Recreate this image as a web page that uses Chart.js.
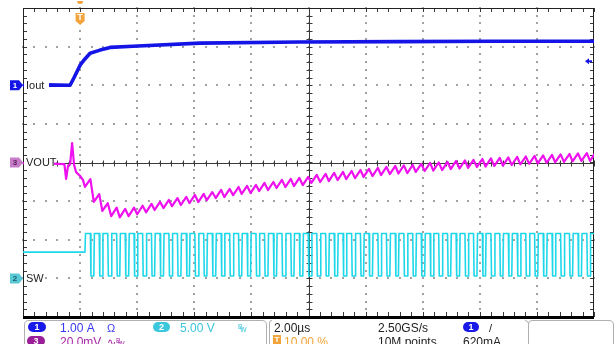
<!DOCTYPE html>
<html>
<head>
<meta charset="utf-8">
<script src="https://cdn.jsdelivr.net/npm/chart.js@4.4.1/dist/chart.umd.min.js"></script>
<style>
  html, body { margin: 0; padding: 0; background: #fff; }
  #wrap { width: 616px; height: 344px; overflow: hidden; }
</style>
</head>
<body>
<div id="wrap"><canvas id="scope" width="616" height="344"></canvas></div>
<script>
// --- time base: 2 µs/div, trigger at 10 % ---
const timeMin = -2;
const timeMax = 18;

// --- channel settings (units per division, ground position in divisions) ---
const iScale = 1.0,  iPos = 2;    // ch1 Iout, A
const vScale = 20,   vPos = 0;    // ch3 VOUT, mV
const swScale = 5,   swPos = -3;  // ch2 SW, V

// --- Iout (A) ---
const ioutTime = [-2, -1.2, -0.35, -0.21, 0, 0.17, 0.35, 0.7, 1.05, 1.85, 4.2, 7.7, 11.2, 14.5, 18];
const ioutAmps = [0, 0.01, 0, 0.2, 0.52, 0.68, 0.83, 0.91, 0.98, 1.01, 1.09, 1.12, 1.13, 1.14, 1.14];

// --- VOUT before switching starts (mV) ---
const voutPreTime = [-2, -1.0, -0.55, -0.49, -0.42, -0.35, -0.28, -0.21, -0.14, 0, 0.1];
const voutPreMv   = [-0.4, -0.6, -0.8, -8.5, -1.5, -1.0, 10, -1.3, -5, -7, -9];

// --- SW rising edges (µs) and levels (V) ---
const swRise = [0.17, 0.48, 0.78, 1.09, 1.39, 1.70, 2.00, 2.31, 2.61, 2.92, 3.22, 3.53, 3.83, 4.14, 4.44,
  4.75, 5.05, 5.36, 5.66, 5.97, 6.27, 6.58, 6.88, 7.19, 7.49, 7.80, 8.10, 8.41, 8.71, 9.02, 9.32, 9.63,
  9.93, 10.24, 10.54, 10.85, 11.15, 11.46, 11.76, 12.07, 12.37, 12.68, 12.98, 13.29, 13.59, 13.90, 14.20,
  14.51, 14.81, 15.12, 15.42, 15.73, 16.03, 16.34, 16.64, 16.95, 17.25, 17.56, 17.86];
const swHighTime = 0.19;
const swIdle = 3.4, swHigh = 5.8, swLow = 0.3;

// --- VOUT ripple per switching cycle (mV) ---
const voutValley = [-12.6, -20.4, -25.1, -27.8, -28.4, -27.8, -26.8, -25.8, -24.6, -23.6, -22.6, -22.0,
  -21.0, -20.5, -19.5, -18.4, -17.9, -16.9, -16.3, -15.8, -14.8, -14.3, -13.2, -12.7, -12.2, -11.7, -10.6,
  -10.1, -9.6, -9.1, -8.6, -8.1, -7.5, -7.0, -6.5, -6.0, -5.7, -5.5, -4.9, -4.4, -4.2, -3.9, -3.4, -3.1,
  -2.8, -2.3, -2.1, -1.8, -1.6, -1.3, -1.0, -0.7, -0.5, -0.2, 0.1, 0.3, 0.6, 0.8, 0.8];
const voutPeak = [-8.6, -16.4, -21.1, -23.4, -24.0, -23.4, -22.4, -21.4, -20.4, -19.4, -18.4, -17.8,
  -16.8, -16.3, -15.3, -14.2, -13.7, -12.7, -12.1, -11.6, -10.6, -10.1, -9.0, -8.5, -8.0, -7.5, -6.4,
  -5.9, -5.4, -4.9, -4.4, -3.9, -3.3, -2.8, -2.3, -1.8, -1.5, -1.3, -0.7, -0.2, 0.0, 0.3, 0.8, 1.1, 1.3,
  1.8, 2.1, 2.4, 2.6, 2.9, 3.1, 3.4, 3.7, 3.9, 4.2, 4.4, 4.7, 4.9, 5.0];

const trigLevel = 0.62; // A

// --- colori ---
const colIout = '#1414e6';
const colVout = '#ee10ee';
const colSw = '#1ed8ea';
const colTrig = '#f2a33a';

// --- costruzione serie (in divisioni) ---
const ioutData = ioutTime.map((t, i) => ({ x: t, y: iPos + ioutAmps[i] / iScale }));

const voutData = voutPreTime.map((t, i) => ({ x: t, y: vPos + voutPreMv[i] / vScale }));
swRise.forEach((t, i) => {
    voutData.push({ x: t, y: vPos + voutValley[i] / vScale });
    voutData.push({ x: t + swHighTime, y: vPos + voutPeak[i] / vScale });
});

const swData = [{ x: timeMin, y: swPos + swIdle / swScale }];
swRise.forEach((t, i) => {
    const prev = i === 0 ? swIdle : swLow;
    swData.push({ x: t, y: swPos + prev / swScale });
    swData.push({ x: t + 0.02, y: swPos + swHigh / swScale });
    swData.push({ x: t + swHighTime, y: swPos + swHigh / swScale });
    swData.push({ x: t + swHighTime + 0.02, y: swPos + swLow / swScale });
});

// --- graticola: punti, cornice e croce centrale ---
const graticule = {
    id: 'graticule',
    beforeDatasetsDraw(chart) {
        const { ctx, chartArea: a, scales: { x, y } } = chart;
        ctx.save();

        // griglia a puntini (ogni divisione, passo 1/5)
        ctx.fillStyle = '#a2a2a2';
        for (let t = timeMin + 2; t < timeMax; t += 2) {
            const px = Math.round(x.getPixelForValue(t)) - 1;
            for (let v = -4; v <= 4 + 1e-6; v += 0.2) {
                ctx.fillRect(px, Math.round(y.getPixelForValue(v)) - 1, 2, 2);
            }
        }
        for (let v = -3; v < 4; v += 1) {
            const py = Math.round(y.getPixelForValue(v)) - 1;
            for (let t = timeMin; t <= timeMax + 1e-6; t += 0.4) {
                ctx.fillRect(Math.round(x.getPixelForValue(t)) - 1, py, 2, 2);
            }
        }

        const cx = Math.round(x.getPixelForValue(8)) + 0.5;
        const cy = Math.round(y.getPixelForValue(0)) + 0.5;
        ctx.strokeStyle = '#3a3a3a';
        ctx.lineWidth = 1;
        ctx.beginPath();
        ctx.moveTo(cx, a.top); ctx.lineTo(cx, a.bottom);
        ctx.moveTo(a.left, cy); ctx.lineTo(a.right, cy);
        // tacche minori
        for (let t = timeMin; t <= timeMax + 1e-6; t += 0.4) {
            const px = Math.round(x.getPixelForValue(t)) + 0.5;
            ctx.moveTo(px, cy - 3); ctx.lineTo(px, cy + 3);
            ctx.moveTo(px, a.top); ctx.lineTo(px, a.top + 4);
            ctx.moveTo(px, a.bottom); ctx.lineTo(px, a.bottom - 5);
        }
        for (let v = -4; v <= 4 + 1e-6; v += 0.2) {
            const py = Math.round(y.getPixelForValue(v)) + 0.5;
            ctx.moveTo(cx - 3, py); ctx.lineTo(cx + 3, py);
            ctx.moveTo(a.left, py); ctx.lineTo(a.left + 4, py);
            ctx.moveTo(a.right, py); ctx.lineTo(a.right - 4, py);
        }
        ctx.stroke();
        // cornice
        ctx.strokeStyle = '#222';
        ctx.beginPath();
        ctx.moveTo(a.left + 0.5, a.bottom); ctx.lineTo(a.left + 0.5, a.top + 0.5);
        ctx.lineTo(a.right - 0.5, a.top + 0.5); ctx.lineTo(a.right - 0.5, a.bottom);
        ctx.stroke();
        ctx.restore();
    },
    afterDatasetsDraw(chart) {
        const { ctx, chartArea: a, scales: { x, y } } = chart;
        ctx.save();
        // bordo inferiore spesso
        ctx.fillStyle = '#000';
        ctx.fillRect(a.left, a.bottom - 1, a.right - a.left, 3);

        // etichette canali a sinistra
        const tags = [
            { pos: iPos, n: '1', fill: colIout, txt: '#fff', label: 'Iout', lw: 22 },
            { pos: vPos, n: '3', fill: '#c77cc7', txt: '#5a1a5a', label: 'VOUT', lw: 27 },
            { pos: swPos, n: '2', fill: '#58c8d6', txt: '#1a5a66', label: 'SW', lw: 17 }
        ];
        tags.forEach(tg => {
            const py = y.getPixelForValue(tg.pos);
            ctx.fillStyle = '#fff';
            ctx.fillRect(a.left + 1, py - 6, tg.lw + 3, 11);
            ctx.fillStyle = tg.fill;
            ctx.beginPath();
            ctx.moveTo(10, py - 5); ctx.lineTo(19, py - 5); ctx.lineTo(23, py);
            ctx.lineTo(19, py + 5); ctx.lineTo(10, py + 5); ctx.closePath();
            ctx.fill();
            ctx.fillStyle = tg.txt;
            ctx.font = 'bold 8px "Liberation Sans", Arial, sans-serif';
            ctx.textAlign = 'center'; ctx.textBaseline = 'middle';
            ctx.fillText(tg.n, 15, py + 0.5);
            ctx.fillStyle = '#222';
            ctx.font = '11px "Liberation Sans", Arial, sans-serif';
            ctx.textAlign = 'left';
            ctx.fillText(tg.label, a.left + 3, py + 0.5);
        });

        // marcatore trigger in alto
        const tx = x.getPixelForValue(0);
        ctx.fillStyle = colTrig;
        ctx.beginPath();
        ctx.arc(tx, 1, 3, 0, Math.PI);
        ctx.fill();
        ctx.beginPath();
        ctx.moveTo(tx - 4.5, 13); ctx.lineTo(tx + 4.5, 13); ctx.lineTo(tx + 4.5, 21);
        ctx.lineTo(tx, 25); ctx.lineTo(tx - 4.5, 21); ctx.closePath();
        ctx.fill();
        ctx.fillStyle = '#fff';
        ctx.font = 'bold 9px "Liberation Sans", Arial, sans-serif';
        ctx.textAlign = 'center'; ctx.textBaseline = 'middle';
        ctx.fillText('T', tx, 18);

        // livello di trigger a destra
        const ty = y.getPixelForValue(iPos + trigLevel / iScale);
        ctx.fillStyle = colIout;
        ctx.beginPath();
        ctx.moveTo(a.right - 9, ty); ctx.lineTo(a.right - 5, ty - 3); ctx.lineTo(a.right - 5, ty + 3);
        ctx.closePath(); ctx.fill();
        ctx.fillRect(a.right - 6, ty - 1, 4, 2);
        ctx.restore();
    },
    afterDraw(chart) {
        const ctx = chart.ctx;
        ctx.save();
        // riquadri pannello inferiore
        ctx.strokeStyle = '#b0b0b0';
        ctx.lineWidth = 1;
        ctx.beginPath();
        ctx.moveTo(24.5, 350); ctx.lineTo(24.5, 325);
        ctx.quadraticCurveTo(24.5, 320.5, 29, 320.5);
        ctx.lineTo(262, 320.5);
        ctx.quadraticCurveTo(266.5, 320.5, 266.5, 325); ctx.lineTo(266.5, 350);
        ctx.stroke();
        ctx.beginPath();
        ctx.moveTo(269.5, 350); ctx.lineTo(269.5, 323);
        ctx.quadraticCurveTo(269.5, 320.5, 272, 320.5);
        ctx.moveTo(525, 320.5); ctx.quadraticCurveTo(528.5, 320.5, 528.5, 324); ctx.lineTo(528.5, 350);
        ctx.moveTo(528.5, 324); ctx.quadraticCurveTo(528.5, 320.5, 532, 320.5);
        ctx.lineTo(609, 320.5); ctx.quadraticCurveTo(613.5, 320.5, 613.5, 325); ctx.lineTo(613.5, 350);
        ctx.stroke();

        const pill = (px, py, w, fill, n) => {
            ctx.fillStyle = fill;
            ctx.beginPath();
            ctx.roundRect(px, py, w, 10, 5);
            ctx.fill();
            ctx.fillStyle = '#fff';
            ctx.font = 'bold 9px "Liberation Sans", Arial, sans-serif';
            ctx.textAlign = 'center'; ctx.textBaseline = 'middle';
            ctx.fillText(n, px + w / 2, py + 5.5);
        };
        const text = (s, px, py, col, size) => {
            ctx.fillStyle = col;
            ctx.font = (size || 12) + 'px "Liberation Sans", Arial, sans-serif';
            ctx.textAlign = 'left'; ctx.textBaseline = 'alphabetic';
            ctx.fillText(s, px, py);
        };
        const r1 = 331.5, r2 = 345.5;
        pill(28, 322, 18, '#1a1ae8', '1');
        text('1.00 A', 60, r1, '#3838f0');
        text('Ω', 107, r1, '#3838f0', 11);
        pill(27, 336, 18, '#9a1e9a', '3');
        text('20.0mV', 60, r2, '#a829a8');
        text('∿', 107, r2, '#a829a8', 11);
        text('B', 116, r2 - 3, '#a829a8', 7);
        text('W', 118, r2, '#a829a8', 7);
        pill(153, 322, 17, '#3cc8dc', '2');
        text('5.00 V', 180, r1, '#3cc4dc');
        text('B', 238, r1 - 3, '#3cc4dc', 7);
        text('W', 240, r1, '#3cc4dc', 7);
        text('2.00µs', 274, r1, '#222');
        ctx.fillStyle = colTrig;
        ctx.fillRect(273, 335, 8, 9);
        ctx.fillStyle = '#fff';
        ctx.font = 'bold 8px "Liberation Sans", Arial, sans-serif';
        ctx.textAlign = 'center'; ctx.textBaseline = 'middle';
        ctx.fillText('T', 277, 340);
        text('10.00 %', 284, r2, colTrig);
        text('2.50GS/s', 378, r1, '#222');
        text('10M points', 378, r2, '#222');
        pill(463, 322, 16, '#1a1ae8', '1');
        text('/', 489, r1, '#222', 11);
        text('620mA', 463, r2, '#222');
        ctx.restore();
    }
};

new Chart(document.getElementById('scope'), {
    type: 'line',
    data: {
        datasets: [
            { label: 'SW', data: swData, borderColor: colSw, borderWidth: 1.6 },
            { label: 'VOUT', data: voutData, borderColor: colVout, borderWidth: 2.2 },
            { label: 'Iout', data: ioutData, borderColor: colIout, borderWidth: 3.6 }
        ]
    },
    options: {
        responsive: false,
        animation: false,
        devicePixelRatio: 1,
        parsing: false,
        layout: { padding: { left: 23, right: 22, top: 8, bottom: 27 } },
        elements: { point: { radius: 0 }, line: { tension: 0, borderJoinStyle: 'round' } },
        plugins: { legend: { display: false }, tooltip: { enabled: false } },
        scales: {
            x: {
                type: 'linear', min: timeMin, max: timeMax,
                afterFit: s => { s.height = 0; },
                ticks: { display: false, stepSize: 2 },
                grid: { display: false },
                border: { display: false }
            },
            y: {
                type: 'linear', min: -4, max: 4,
                afterFit: s => { s.width = 0; },
                ticks: { display: false, stepSize: 1 },
                grid: { display: false },
                border: { display: false }
            }
        }
    },
    plugins: [graticule]
});
</script>
</body>
</html>
